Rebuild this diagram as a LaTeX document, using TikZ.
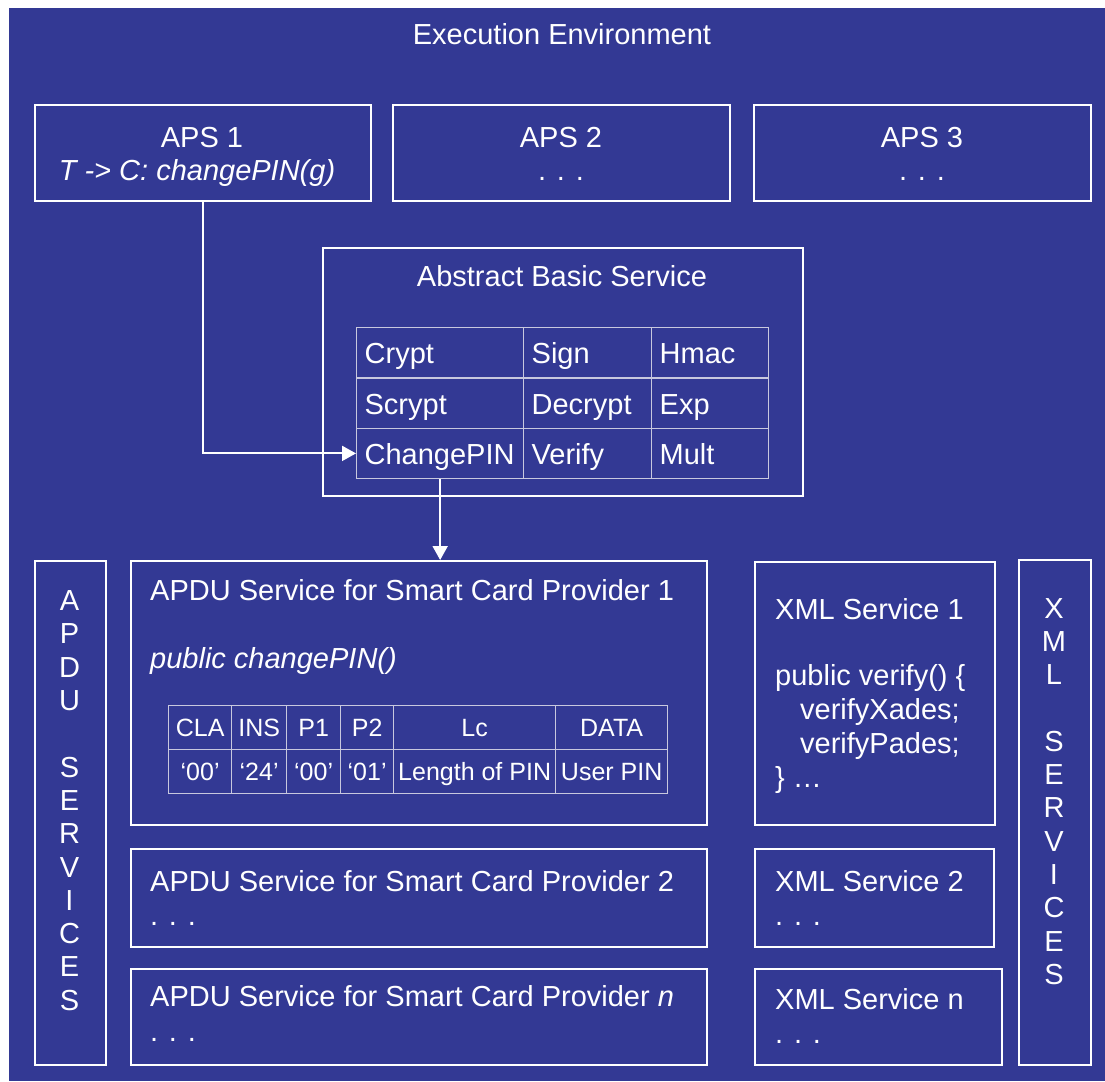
\documentclass[tikz,border=0pt]{standalone}
\usepackage{fontspec}
\setmainfont{Liberation Sans}
\usetikzlibrary{arrows.meta}
\definecolor{bgblue}{RGB}{51,57,148}
\definecolor{gridgray}{RGB}{200,200,222}
\begin{document}
\begin{tikzpicture}[x=1pt,y=-1pt,
  box/.style={draw=white, line width=2pt, inner sep=0pt, anchor=north west},
  txt/.style={text=white, inner sep=0pt, anchor=base, font=\fontsize{29}{33.3}\selectfont},
  ltxt/.style={txt, anchor=base west},
  vtxt/.style={text=white, inner sep=0pt, anchor=north, align=center, font=\fontsize{29}{33.3}\selectfont},
  cell/.style={draw=gridgray, line width=1.3pt, anchor=north west, text=white,
    font=\fontsize{29}{33}\selectfont, inner xsep=8pt, inner ysep=0pt, align=left,
    text height=26pt, text depth=4pt, minimum height=50.3pt},
  acell/.style={draw=gridgray, line width=1.3pt, anchor=north west, text=white,
    font=\fontsize{25}{28}\selectfont, inner sep=0pt, align=center,
    text height=22pt, text depth=4pt, minimum height=44pt},
  conn/.style={draw=white, line width=2pt, -{Triangle[length=14pt,width=15pt]}}
]
\useasboundingbox (0,0) rectangle (1105,1081);
\fill[bgblue] (9,8) rectangle (1105,1081);

\node[txt] (title) at (562,45) {Execution Environment};

% APS boxes
\node[box, minimum width=336pt, minimum height=96pt] (aps1) at (34,104) {};
\node[box, minimum width=337pt, minimum height=96pt] (aps2) at (392,104) {};
\node[box, minimum width=337pt, minimum height=96pt] (aps3) at (753,104) {};
\node[txt] (aps1a) at (202,147) {APS 1};
\node[txt] (aps1b) at (197,180) {\itshape T -> C: changePIN(g)};
\node[txt] (aps2a) at (561,147) {APS 2};
\node[txt] (aps2b) at (561,180) {. . .};
\node[txt] (aps3a) at (922,147) {APS 3};
\node[txt] (aps3b) at (922,180) {. . .};

% Abstract Basic Service
\node[box, minimum width=480pt, minimum height=248pt] (abs) at (322,247) {};
\node[txt] (abst) at (562,286) {Abstract Basic Service};
\node[cell, minimum width=167pt, text width=151pt] (c11) at (356,327) {Crypt};
\node[cell, minimum width=128pt, text width=112pt] (c12) at (523,327) {Sign};
\node[cell, minimum width=117pt, text width=101pt] (c13) at (651,327) {Hmac};
\node[cell, minimum width=167pt, text width=151pt] (c21) at (356,377.3) {Scrypt};
\node[cell, minimum width=128pt, text width=112pt] (c22) at (523,377.3) {Decrypt};
\node[cell, minimum width=117pt, text width=101pt] (c23) at (651,377.3) {Exp};
\node[cell, minimum width=167pt, text width=151pt] (chg) at (356,427.6) {ChangePIN};
\node[cell, minimum width=128pt, text width=112pt] (c32) at (523,427.6) {Verify};
\node[cell, minimum width=117pt, text width=101pt] (c33) at (651,427.6) {Mult};

% APDU services
\node[box, minimum width=71pt, minimum height=504pt] (apdus) at (34,560) {};
\node[vtxt] (apdusl) at (69.5,590.5) {A\\P\\D\\U\\\mbox{}\\S\\E\\R\\V\\I\\C\\E\\S};

\node[box, minimum width=576pt, minimum height=264pt] (apdu1) at (130,560) {};
\node[ltxt] (apdu1t) at (150,600) {APDU Service for Smart Card Provider 1};
\node[ltxt] (apdu1m) at (150,668) {\itshape public changePIN()};
\node[acell, minimum width=63pt] (h1) at (168,705) {CLA};
\node[acell, minimum width=55pt] (h2) at (231,705) {INS};
\node[acell, minimum width=54pt] (h3) at (286,705) {P1};
\node[acell, minimum width=53pt] (h4) at (340,705) {P2};
\node[acell, minimum width=162pt] (h5) at (393,705) {Lc};
\node[acell, minimum width=112pt] (h6) at (555,705) {DATA};
\node[acell, minimum width=63pt] (d1) at (168,749) {‘00’};
\node[acell, minimum width=55pt] (d2) at (231,749) {‘24’};
\node[acell, minimum width=54pt] (d3) at (286,749) {‘00’};
\node[acell, minimum width=53pt] (d4) at (340,749) {‘01’};
\node[acell, minimum width=162pt] (d5) at (393,749) {Length of PIN};
\node[acell, minimum width=112pt] (d6) at (555,749) {User PIN};

\node[box, minimum width=576pt, minimum height=98pt] (apdu2) at (130,848) {};
\node[ltxt] (apdu2t) at (150,891) {APDU Service for Smart Card Provider 2};
\node[ltxt] (apdu2d) at (150,925) {. . .};
\node[box, minimum width=576pt, minimum height=96pt] (apdun) at (130,968) {};
\node[ltxt] (apdunt) at (150,1006) {APDU Service for Smart Card Provider \itshape n};
\node[ltxt] (apdund) at (150,1041) {. . .};

% XML services
\node[box, minimum width=240pt, minimum height=263pt] (xml1) at (754,561) {};
\node[ltxt] (xml1t) at (775,619) {XML Service 1};
\node[ltxt] (xml1a) at (775,685) {public verify() \{};
\node[ltxt] (xml1b) at (800,719) {verifyXades;};
\node[ltxt] (xml1c) at (800,753) {verifyPades;};
\node[ltxt] (xml1d) at (775,787) {\} …};
\node[box, minimum width=239pt, minimum height=98pt] (xml2) at (754,848) {};
\node[ltxt] (xml2t) at (775,891) {XML Service 2};
\node[ltxt] (xml2d) at (775,925) {. . .};
\node[box, minimum width=247pt, minimum height=96pt] (xmln) at (754,968) {};
\node[ltxt] (xmlnt) at (775,1009) {XML Service n};
\node[ltxt] (xmlnd) at (775,1043) {. . .};
\node[box, minimum width=72pt, minimum height=505pt] (xmls) at (1018,559) {};
\node[vtxt] (xmlsl) at (1054,598) {X\\M\\L\\\mbox{}\\S\\E\\R\\V\\I\\C\\E\\S};

% connectors
\draw[conn] (aps1.south) |- (chg.west);
\draw[conn] (chg.south) -- (chg.south |- apdu1.north);
\end{tikzpicture}
\end{document}
